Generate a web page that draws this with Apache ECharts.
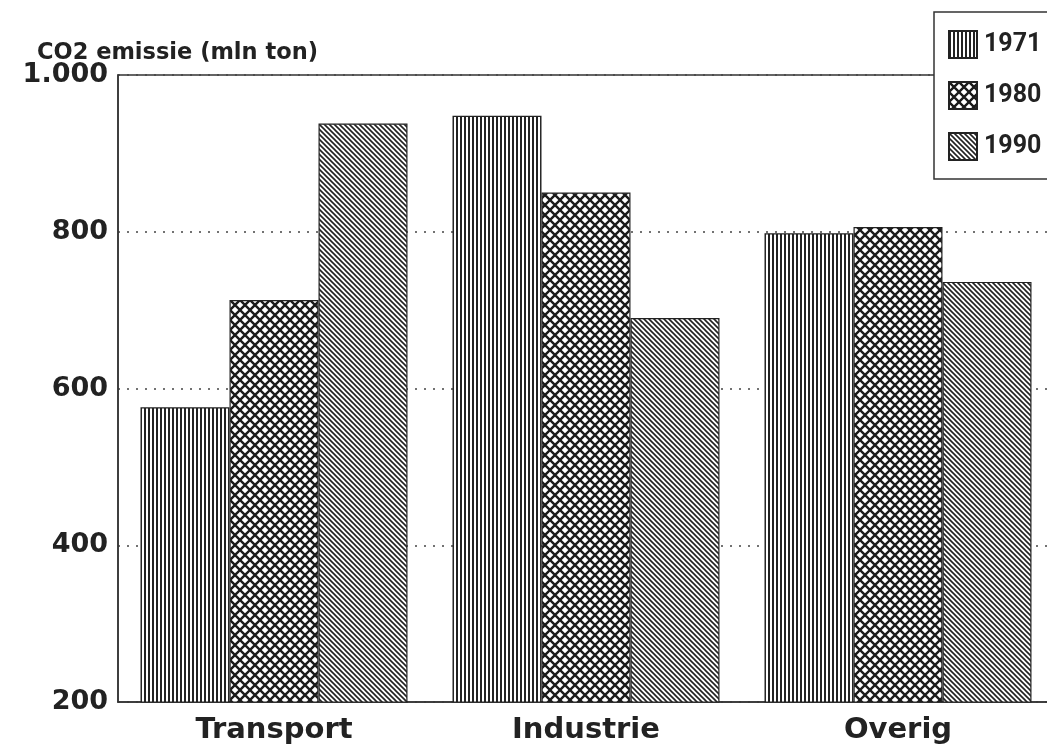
<!DOCTYPE html>
<html>
<head>
<meta charset="utf-8">
<script src="https://cdn.jsdelivr.net/npm/echarts@6/dist/echarts.min.js"></script>
<style>html,body{margin:0;padding:0;background:#fff;overflow:hidden;width:1047px;height:746px;}#c{width:1070px;height:746px;}</style>
</head>
<body>
<div id="c"></div>
<script>
const categories = ['Transport', 'Industrie', 'Overig'];
const years = ['1971', '1980', '1990'];
const values1971 = [576, 948, 798];
const values1980 = [713, 850, 806];
const values1990 = [938, 690, 736];
const yTickLabels = {200: '200', 400: '400', 600: '600', 800: '800', 1000: '1.000'};

function makePattern(kind) {
  const c = document.createElement('canvas');
  const ctx = c.getContext('2d');
  if (kind === 'v') {
    c.width = 4; c.height = 4;
    ctx.fillStyle = '#fff'; ctx.fillRect(0, 0, 4, 4);
    ctx.fillStyle = '#222'; ctx.fillRect(0, 0, 2, 4);
  } else if (kind === 'x') {
    const s = 10;
    c.width = s; c.height = s;
    ctx.fillStyle = '#fff'; ctx.fillRect(0, 0, s, s);
    ctx.strokeStyle = '#1a1a1a'; ctx.lineWidth = 2.4;
    ctx.beginPath();
    ctx.moveTo(-1, -1); ctx.lineTo(s + 1, s + 1);
    ctx.moveTo(s + 1, -1); ctx.lineTo(-1, s + 1);
    ctx.stroke();
  } else {
    const s = 5;
    c.width = s; c.height = s;
    ctx.fillStyle = '#fff'; ctx.fillRect(0, 0, s, s);
    ctx.strokeStyle = '#222'; ctx.lineWidth = 1.6;
    ctx.beginPath();
    ctx.moveTo(-1, -1); ctx.lineTo(s + 1, s + 1);
    ctx.moveTo(-s - 1, -1); ctx.lineTo(1, s + 1);
    ctx.moveTo(s - 1, -1); ctx.lineTo(2 * s + 1, s + 1);
    ctx.stroke();
  }
  return { image: c, repeat: 'repeat' };
}

const patterns = [makePattern('v'), makePattern('x'), makePattern('d')];
const seriesData = [values1971, values1980, values1990];

const chart = echarts.init(document.getElementById('c'), null, { renderer: 'canvas' });
chart.setOption({
  animation: false,
  backgroundColor: '#fff',
  title: {
    text: 'CO2 emissie (mln ton)',
    left: 37, top: 42,
    padding: 0,
    textStyle: { fontFamily: 'DejaVu Sans', fontWeight: 'bold', fontSize: 22.5, color: '#222' }
  },
  legend: {
    orient: 'vertical',
    left: 934, top: 12,
    icon: 'rect',
    itemWidth: 28, itemHeight: 27,
    itemGap: 22,
    padding: [18, 60, 18, 14],
    borderColor: '#333', borderWidth: 1.5,
    backgroundColor: '#fff',
    textStyle: { fontFamily: 'Roboto', fontWeight: 'bold', fontSize: 25, color: '#222', padding: [0, 0, 0, 2] },
    data: years
  },
  grid: {
    left: 118, top: 75, width: 936, height: 627,
    show: true, borderColor: '#333', borderWidth: 1.5, backgroundColor: 'transparent'
  },
  xAxis: {
    type: 'category',
    data: categories,
    axisLine: { lineStyle: { color: '#333', width: 1.5 } },
    axisTick: { show: false },
    axisLabel: { fontFamily: 'DejaVu Sans', fontWeight: 'bold', fontSize: 29, color: '#222', margin: 14 }
  },
  yAxis: {
    type: 'value',
    min: 200, max: 1000, interval: 200,
    axisLine: { show: true, lineStyle: { color: '#333', width: 1.5 } },
    axisTick: { show: false },
    axisLabel: {
      fontFamily: 'DejaVu Sans', fontWeight: 'bold', fontSize: 27, color: '#222', margin: 10,
      formatter: v => yTickLabels[v] || String(v)
    },
    splitLine: { show: true, lineStyle: { color: '#444', type: [2, 7], width: 1.6 } }
  },
  series: years.map((y, i) => ({
    name: y,
    type: 'bar',
    data: seriesData[i],
    barWidth: 89,
    barGap: '0%',
    itemStyle: { color: patterns[i], borderColor: '#222', borderWidth: 1.2 }
  }))
});
</script>
</body>
</html>
